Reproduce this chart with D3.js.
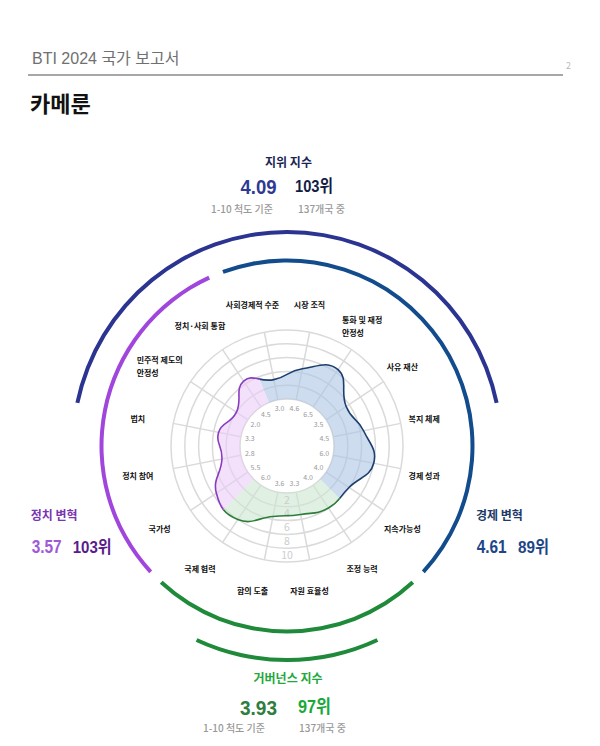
<!DOCTYPE html>
<html>
<head>
<meta charset="utf-8">
<script src="https://cdn.jsdelivr.net/npm/d3@7"></script>
<style>
  body { margin: 0; background: #fff; }
  text { font-family: 'Noto Sans CJK KR', 'Noto Sans', sans-serif; }
</style>
</head>
<body>
<div class="content"></div>
<script>
// axes, clockwise starting just left of 12 o'clock
const axisLabels = ['사회경제적 수준', '시장 조직', '통화 및 재정\n안정성', '사유 재산', '복지 체제',
  '경제 성과', '지속가능성', '조정 능력', '자원 효율성', '합의 도출', '국제 협력',
  '국가성', '정치 참여', '법치', '민주적 제도의\n안정성', '정치·사회 통합'];
const axisScores = [3.0, 4.6, 6.5, 3.5, 4.5, 6.0, 4.0, 4.0, 3.3, 3.6, 6.0, 5.5, 2.8, 3.3, 2.0, 4.5];
const axisGroups = ['econ', 'econ', 'econ', 'econ', 'econ', 'econ', 'econ',
  'gov', 'gov', 'gov', 'gov', 'pol', 'pol', 'pol', 'pol', 'pol'];
const ringTicks = [2, 4, 6, 8, 10];

// index boxes: status, political, economic, governance
const indexNames = ['지위 지수', '정치 변혁', '경제 변혁', '거버넌스 지수'];
const indexScores = ['4.09', '3.57', '4.61', '3.93'];
const indexRanks = ['103위', '103위', '89위', '97위'];
const scaleNotes = ['1-10 척도 기준', '137개국 중'];

function main() {
  const svgW = 600, svgH = 746;
  const cx = 287, cy = 446;
  const svg = d3.select('.content').append('svg')
                .attr('width', svgW)
                .attr('height', svgH);
  svg.append('rect').attr('width', svgW).attr('height', svgH).attr('fill', '#fff');

  // colours per group
  const lineColor = { econ: '#1c3f6e', gov: '#2a7d3a', pol: '#8a3cc0' };
  const fillColor = { econ: '#acc5e3', gov: '#cbe6cf', pol: '#ebcbf7' };
  const ringColor = { econ: '#124c8c', gov: '#1e8a3a', pol: '#a046dc' };
  const numFont = "'Liberation Sans', 'Noto Sans CJK KR', sans-serif";

  // page header
  svg.append('text').attr('x', 32).attr('y', 64)
     .style('font-family', numFont)
     .attr('font-size', 16).attr('fill', '#707070').text('BTI 2024 국가 보고서');
  svg.append('line').attr('x1', 28).attr('x2', 563).attr('y1', 75).attr('y2', 75)
     .attr('stroke', '#8a8a8a').attr('stroke-width', 1.5);
  svg.append('text').attr('x', 566).attr('y', 69)
     .attr('font-size', 9).attr('fill', '#bbb').text('2');
  svg.append('text').attr('x', 30).attr('y', 112)
     .attr('font-size', 22).attr('font-weight', 700).attr('fill', '#111').text('카메룬');

  // scales
  const r = d3.scaleLinear().domain([0, 10]).range([47, 116]);
  const n = axisScores.length;
  const angle = d3.scaleLinear().domain([0, n]).range([-Math.PI / n, 2 * Math.PI - Math.PI / n]);

  // sector span of each group (in axis index units)
  const groups = Array.from(new Set(axisGroups));
  const span = {};
  groups.forEach(g => {
    const idx = axisGroups.map((v, i) => v === g ? i : -1).filter(i => i >= 0);
    span[g] = [d3.min(idx) - 0.5, d3.max(idx) + 0.5];
  });

  const g = svg.append('g').attr('transform', `translate(${cx},${cy})`);

  // clip wedges
  const defs = svg.append('defs');
  const wedge = d3.arc().innerRadius(0).outerRadius(240);
  groups.forEach(k => {
    defs.append('clipPath').attr('id', 'clip-' + k)
        .append('path')
        .attr('d', wedge({ startAngle: angle(span[k][0]), endAngle: angle(span[k][1]) }));
  });

  // grid rings and spokes
  g.selectAll('.ring').data([0].concat(ringTicks)).enter()
   .append('circle')
   .attr('r', d => r(d))
   .attr('fill', 'none')
   .attr('stroke', '#dadada')
   .attr('stroke-width', 1.5);
  g.selectAll('.spoke').data(axisScores).enter()
   .append('line')
   .attr('x1', (d, i) => r(0) * Math.sin(angle(i)))
   .attr('y1', (d, i) => -r(0) * Math.cos(angle(i)))
   .attr('x2', (d, i) => r(10) * Math.sin(angle(i)))
   .attr('y2', (d, i) => -r(10) * Math.cos(angle(i)))
   .attr('stroke', '#dadada')
   .attr('stroke-width', 1.5);

  // score shape, kept round like the printed chart
  const radial = d3.lineRadial()
                   .angle((d, i) => angle(i))
                   .radius(d => r(d))
                   .curve(d3.curveCardinalClosed.tension(-0.45));
  const hole = d3.arc()({ innerRadius: 0, outerRadius: r(0), startAngle: 0, endAngle: 2 * Math.PI });

  groups.forEach(k => {
    g.append('path')
     .attr('d', radial(axisScores) + hole)
     .attr('fill-rule', 'evenodd')
     .attr('fill', fillColor[k])
     .attr('fill-opacity', 0.6)
     .attr('clip-path', `url(#clip-${k})`);
  });

  // ring scale numbers along the bottom
  g.selectAll('.tick').data(ringTicks).enter()
   .append('text')
   .attr('x', 0)
   .attr('y', d => r(d - 1))
   .attr('dy', '0.35em')
   .attr('text-anchor', 'middle')
   .attr('font-size', 10.5)
   .attr('fill', '#cdcdcd')
   .text(d => d);

  groups.forEach(k => {
    g.append('path')
     .attr('d', radial(axisScores))
     .attr('fill', 'none')
     .attr('stroke', lineColor[k])
     .attr('stroke-width', 1.6)
     .attr('clip-path', `url(#clip-${k})`);
  });

  // score values on the inner ring
  g.selectAll('.val').data(axisScores).enter()
   .append('text')
   .attr('x', (d, i) => 38 * Math.sin(angle(i)))
   .attr('y', (d, i) => -38 * Math.cos(angle(i)))
   .attr('dy', '0.35em')
   .attr('text-anchor', 'middle')
   .attr('font-size', 7)
   .attr('fill', '#999')
   .text(d => d3.format('.1f')(d));

  // axis labels
  const labR = 146, labDx = -6, labDy = 2, lh = 12.5;
  axisLabels.forEach((lab, i) => {
    const px = labDx + labR * Math.sin(angle(i));
    const py = labDy - labR * Math.cos(angle(i));
    const lines = lab.split('\n');
    const t = g.append('text')
               .attr('font-size', 8)
               .attr('font-weight', 700)
               .attr('fill', '#111');
    if (lines.length === 1) {
      t.attr('x', px).attr('y', py).attr('dy', '0.35em')
       .attr('text-anchor', 'middle').text(lab);
    } else {
      lines.forEach((s, k) => {
        t.append('tspan').attr('y', py - (lines.length - 1) * lh / 2 + k * lh)
         .attr('dy', '0.35em').text(s);
      });
      const w = t.select('tspan').node().getComputedTextLength();
      t.selectAll('tspan').attr('x', px - w / 2);
    }
  });

  // coloured arcs around the chart
  const pad = 2.3 * Math.PI / 180;
  const band = d3.arc().innerRadius(183.5).outerRadius(187.5);
  groups.forEach(k => {
    g.append('path')
     .attr('d', band({ startAngle: angle(span[k][0]) + pad, endAngle: angle(span[k][1]) - pad }))
     .attr('fill', ringColor[k]);
  });
  const outer = d3.arc().innerRadius(212).outerRadius(216);
  const deg = Math.PI / 180;
  g.append('path')
   .attr('d', outer({ startAngle: -78.4 * deg, endAngle: 78.4 * deg }))
   .attr('fill', '#2b3490');
  g.append('path')
   .attr('d', outer({ startAngle: 155 * deg, endAngle: 205 * deg }))
   .attr('fill', '#1e8a3a');

  // index text blocks
  const blocks = [
    { name: [288.5, 167, 'middle', '#1b2554'], score: [240.5, 194, 21, 36, '#2e3a94'],
      rank: [295, 192, 17, 38, '#131c45'], notes: [[211, 212.8], [298, 212.8]] },
    { name: [30.7, 520, 'start', '#7a35b0'], score: [31.7, 552.5, 18, 30, '#a05ad6'],
      rank: [72.7, 552.5, 17, 39, '#5a1c8c'], notes: [] },
    { name: [476, 519.5, 'start', '#1e3a6a'], score: [476.7, 553, 18, 30, '#1d4687'],
      rank: [518, 553, 17, 31, '#1d4687'], notes: [] },
    { name: [288, 682.6, 'middle', '#22a83c'], score: [240, 714.5, 21, 37, '#2f7d40'],
      rank: [298, 713, 18, 33, '#1aa83a'], notes: [[203, 731.8], [299, 731.8]] }
  ];
  blocks.forEach((b, i) => {
    svg.append('text').attr('x', b.name[0]).attr('y', b.name[1])
       .attr('text-anchor', b.name[2]).attr('font-size', 12).attr('font-weight', 700)
       .attr('fill', b.name[3]).text(indexNames[i]);
    svg.append('text').attr('x', b.score[0]).attr('y', b.score[1])
       .style('font-family', numFont).attr('font-size', b.score[2]).attr('font-weight', 700)
       .attr('textLength', b.score[3]).attr('lengthAdjust', 'spacingAndGlyphs')
       .attr('fill', b.score[4]).text(indexScores[i]);
    svg.append('text').attr('x', b.rank[0]).attr('y', b.rank[1])
       .style('font-family', numFont).attr('font-size', b.rank[2]).attr('font-weight', 700)
       .attr('textLength', b.rank[3]).attr('lengthAdjust', 'spacingAndGlyphs')
       .attr('fill', b.rank[4]).text(indexRanks[i]);
    b.notes.forEach((p, k) => {
      svg.append('text').attr('x', p[0]).attr('y', p[1])
         .attr('font-size', 10).attr('font-weight', 500)
         .attr('fill', '#999').text(scaleNotes[k]);
    });
  });
}
main();
</script>
</body>
</html>
